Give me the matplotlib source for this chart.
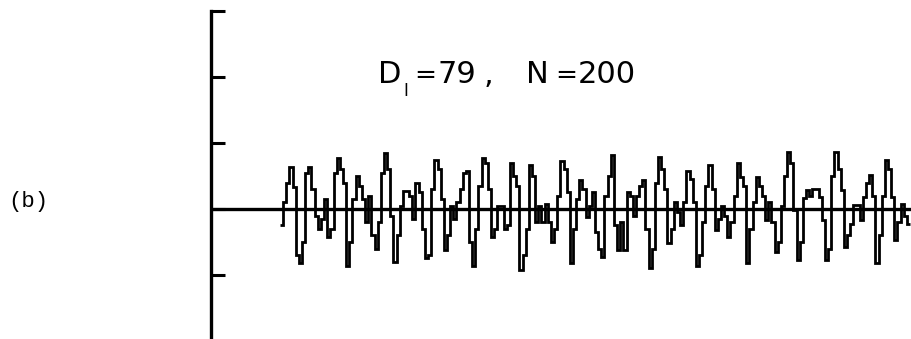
import numpy as np
import matplotlib.pyplot as plt

# sampled signal (tick units, 1 tick = one major division), N = 200 samples
signal = [
    -0.25, 0.10, 0.40, 0.64, 0.34, -0.70, -0.82, -0.50, 0.55, 0.64,
    0.30, -0.10, -0.30, -0.15, 0.15, -0.42, -0.30, 0.55, 0.77, 0.60,
    0.40, -0.87, -0.50, 0.15, 0.50, 0.35, 0.15, -0.20, 0.20, -0.40,
    -0.60, -0.20, 0.55, 0.85, 0.60, -0.10, -0.80, -0.40, 0.05, 0.28,
    0.28, 0.20, -0.15, 0.40, 0.25, -0.30, -0.75, -0.70, 0.30, 0.75,
    0.60, 0.15, -0.62, -0.40, 0.05, -0.15, 0.10, 0.30, 0.55, 0.57,
    -0.50, -0.87, -0.30, 0.35, 0.77, 0.70, 0.30, -0.42, -0.30, 0.05,
    0.05, -0.30, -0.25, 0.69, 0.50, 0.35, -0.92, -0.70, -0.30, 0.67,
    0.50, -0.20, 0.05, -0.20, 0.08, -0.20, -0.50, -0.30, 0.20, 0.72,
    0.60, 0.25, -0.82, -0.30, 0.15, 0.44, 0.30, -0.12, 0.05, 0.25,
    -0.35, -0.60, -0.72, 0.20, 0.50, 0.82, -0.25, -0.62, -0.20, -0.62,
    0.25, 0.20, -0.10, 0.20, 0.35, 0.44, -0.30, -0.90, -0.60, 0.40,
    0.79, 0.60, 0.30, -0.52, -0.30, 0.10, -0.05, -0.25, 0.10, 0.57,
    0.45, 0.10, -0.87, -0.70, -0.20, 0.35, 0.67, 0.30, -0.32, -0.15,
    0.04, -0.10, -0.42, -0.20, 0.20, 0.69, 0.49, 0.35, -0.82, -0.30,
    0.10, 0.49, 0.35, 0.20, -0.17, 0.10, -0.20, -0.65, -0.50, 0.05,
    0.50, 0.87, 0.70, -0.02, -0.77, -0.50, 0.16, 0.29, 0.20, 0.30,
    0.30, 0.18, -0.17, -0.77, -0.60, 0.50, 0.87, 0.60, 0.29, -0.57,
    -0.40, -0.22, 0.06, 0.06, -0.17, 0.18, 0.40, 0.52, 0.20, -0.82,
    -0.40, 0.20, 0.74, 0.60, 0.18, -0.47, -0.20, 0.08, -0.10, -0.22,
]
yticks = [-1, 0, 1, 2, 3]
# title pieces: (text, x pixel, baseline pixel, size)
title_parts = [("D", 378, 83, 22), ("I", 403, 96, 12), ("=", 414, 83, 19),
               ("79", 438, 83, 22), (",", 484, 83, 22), ("N", 526, 83, 22),
               ("=", 555, 83, 19), ("200", 578, 83, 22)]

fig = plt.figure(figsize=(9.11, 3.39), dpi=100)
ax = fig.add_axes([211 / 911, 0, 700 / 911, 1])

edges = np.arange(len(signal) + 1)
ax.stairs(signal, edges, baseline=None, color='black', lw=2.0)
ax.axhline(0, color='black', lw=2.4)

ax.set_xlim(-21.9, 200.3)
ax.set_ylim(-1.97, 3.167)

for side in ['top', 'right', 'bottom']:
    ax.spines[side].set_visible(False)
ax.spines['left'].set_linewidth(2.4)
ax.spines['left'].set_bounds(-1.97, 3.0)
ax.set_yticks(yticks)
ax.set_yticklabels([])
ax.tick_params(axis='y', direction='in', length=10, width=2.2)
ax.set_xticks([])
ax.patch.set_visible(False)

for txt, px, py, size in title_parts:
    fig.text(px / 911, 1 - py / 339, txt, fontsize=size, va='baseline',
             family='DejaVu Sans')
fig.text(8 / 911, 1 - 201 / 339, "(b)", fontsize=16, va='center',
         family='Liberation Mono')

fig.savefig('out.png', dpi=100)
